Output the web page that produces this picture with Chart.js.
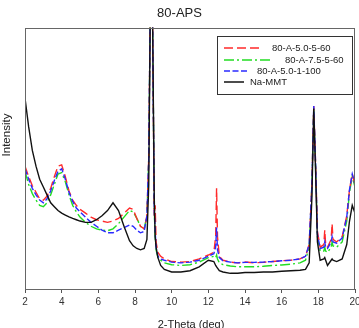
<!DOCTYPE html>
<html>
<head>
<meta charset="utf-8">
<script src="https://cdn.jsdelivr.net/npm/chart.js@4.4.1/dist/chart.umd.min.js"></script>
<style>
  html, body { margin: 0; padding: 0; background: #fff; }
  #wrap { width: 359px; height: 328px; }
</style>
</head>
<body>
<div id="wrap"><canvas id="xrd" width="359" height="328"></canvas></div>
<script>
// 2-theta positions (deg)
const twoTheta = [2.0, 2.2, 2.4, 2.6, 2.8, 3.0, 3.2, 3.4, 3.6, 3.8, 4.0, 4.2, 4.4, 4.6, 4.8, 5.0,
    5.3, 5.6, 5.9, 6.2, 6.5, 6.8, 7.1, 7.4, 7.7, 7.9, 8.1, 8.3, 8.5, 8.65, 8.75, 8.85, 8.9, 8.95,
    9.05, 9.1, 9.15, 9.25, 9.4, 9.6, 10.0, 10.5, 11.0, 11.5, 12.0, 12.3, 12.4, 12.45, 12.5, 12.6,
    12.8, 13.2, 13.6, 14.0, 14.5, 15.0, 15.5, 16.0, 16.5, 17.0, 17.3, 17.5, 17.65, 17.75, 17.85,
    17.95, 18.1, 18.3, 18.35, 18.4, 18.5, 18.7, 18.75, 18.8, 19.0, 19.3, 19.55, 19.7, 19.85, 20.0];

// intensity (arbitrary units)
const red5060 = [47, 43, 39.5, 37, 34.5, 34, 35.5, 38.5, 43, 47, 47.5, 43, 37.5, 34, 32, 30.5,
    29, 27.5, 26.5, 26, 25.5, 26, 27, 29, 31, 30.5, 27, 24, 23, 28, 50, 120, 150, 110,
    28, 32, 18, 14, 12.5, 11.5, 10.5, 10.3, 10.5, 11.5, 13, 14, 20, 38.5, 20, 12.5,
    11, 10.3, 10, 10.3, 10, 10.2, 10.5, 10.8, 11, 11.5, 12.5, 17, 40, 70, 48,
    22, 16, 17, 22.5, 17, 16, 19, 25, 19, 18, 20, 28, 38, 44, 40];

const green7560 = [45, 40, 36.5, 34, 32, 31.5, 33, 36, 40, 44, 44.5, 41, 36, 32, 29.5, 27.5,
    25.5, 24, 23, 22.5, 22.3, 23, 25, 27.5, 30, 29.5, 27, 24, 23, 28, 50, 120, 150, 110,
    30, 20, 15, 12, 11, 10, 9.3, 9, 9.3, 10.3, 12, 12.5, 12, 13, 11.5, 10,
    9.3, 8.8, 8.5, 8.5, 8.5, 8.7, 9, 9.2, 9.5, 10, 11, 16, 40, 69, 47,
    20, 14.5, 14.5, 16, 14.5, 14, 16, 18, 16.5, 16, 18, 26, 37, 43, 39];

const blue50100 = [46, 42, 38.5, 36, 34, 33, 34.5, 37.5, 41.5, 45, 46, 42, 37, 33.5, 31, 29.5,
    27.5, 25.5, 24, 22.5, 21.5, 21.5, 22.5, 23.5, 24.5, 24, 22.5, 21.5, 22, 28, 50, 120, 150, 110,
    30, 22, 16, 12.5, 11.5, 11, 10.3, 10, 10.3, 11, 12.5, 13.5, 16, 23.5, 15, 12,
    10.8, 10.3, 10, 10.2, 10.2, 10.3, 10.5, 10.8, 11, 11.5, 12.5, 17, 40, 70, 48,
    21, 15.5, 16, 18, 16, 15.5, 18, 20, 18, 17.5, 19.5, 27.5, 38, 44, 40];

const naMMT = [73, 62, 53, 47, 42, 39, 36, 33, 31.5, 30, 29, 28.3, 27.6, 27, 26.5, 26,
    25.5, 25.5, 26.5, 28, 30, 33, 30, 24, 18.5, 16.5, 15.5, 15, 15.5, 19, 40, 120, 150, 110,
    35, 20, 16, 12, 9, 7.5, 6.5, 6.5, 7, 8.5, 11, 10.5, 9, 8.5, 8, 7,
    6.5, 6, 6, 6.3, 6.3, 6.5, 6.5, 6.8, 7, 7.2, 7.5, 10, 35, 69, 45,
    18, 11, 11.5, 12, 11, 9, 11, 11.5, 11, 10.5, 11.5, 17, 26, 32, 29];

const seriesNames = ['80-A-5.0-5-60', '80-A-7.5-5-60', '80-A-5.0-1-100', 'Na-MMT'];
const xTicks = [2, 4, 6, 8, 10, 12, 14, 16, 18, 20];

function toPoints(values) {
    return values.map((v, i) => ({ x: twoTheta[i], y: v }));
}

const FONT = '"Liberation Sans", Arial, sans-serif';

// frame, axis titles and legend box
const decorPlugin = {
    id: 'decor',
    afterDraw(chart) {
        const ctx = chart.ctx;
        const a = chart.chartArea;
        ctx.save();

        // plot frame
        ctx.strokeStyle = '#666';
        ctx.lineWidth = 1;
        ctx.setLineDash([]);
        ctx.strokeRect(Math.round(a.left) + 0.5, Math.round(a.top) + 0.5,
            Math.round(a.right - a.left) - 1, Math.round(a.bottom - a.top));

        // y title
        ctx.fillStyle = '#222';
        ctx.font = '11.5px ' + FONT;
        ctx.textAlign = 'center';
        ctx.textBaseline = 'middle';
        ctx.translate(7, 135);
        ctx.rotate(-Math.PI / 2);
        ctx.fillText('Intensity', 0, 0);
        ctx.setTransform(1, 0, 0, 1, 0, 0);

        // x title (runs off the bottom like the original)
        ctx.font = '11px ' + FONT;
        ctx.textBaseline = 'alphabetic';
        ctx.fillText('2-Theta (deg)', 191, 328);

        // legend
        ctx.fillStyle = '#fff';
        ctx.fillRect(217.5, 36.5, 135, 58);
        ctx.strokeStyle = '#333';
        ctx.strokeRect(217.5, 36.5, 135, 58);

        const rows = [
            { y: 48, x2: 259, tx: 272 },
            { y: 60, x2: 270, tx: 285 },
            { y: 71, x2: 248, tx: 257 },
            { y: 82, x2: 244, tx: 250 }
        ];
        ctx.font = '9.5px ' + FONT;
        ctx.textAlign = 'left';
        ctx.textBaseline = 'middle';
        chart.data.datasets.forEach((ds, i) => {
            const r = rows[i];
            ctx.strokeStyle = ds.borderColor;
            ctx.lineWidth = 1.5;
            ctx.setLineDash(ds.borderDash || []);
            ctx.beginPath();
            ctx.moveTo(224, r.y);
            ctx.lineTo(r.x2, r.y);
            ctx.stroke();
            ctx.setLineDash([]);
            ctx.fillStyle = '#222';
            ctx.fillText(ds.label, r.tx, r.y);
        });
        ctx.restore();
    }
};

const ctx = document.getElementById('xrd').getContext('2d');
new Chart(ctx, {
    type: 'line',
    data: {
        datasets: [
            { label: seriesNames[0], data: toPoints(red5060), borderColor: '#ff2a2a', borderDash: [9, 4], order: 2 },
            { label: seriesNames[1], data: toPoints(green7560), borderColor: '#22dd22', borderDash: [10, 3, 2, 3], order: 3 },
            { label: seriesNames[2], data: toPoints(blue50100), borderColor: '#2a2aff', borderDash: [6, 2.5], order: 1 },
            { label: seriesNames[3], data: toPoints(naMMT), borderColor: '#111', order: 0 }
        ]
    },
    options: {
        responsive: false,
        animation: false,
        devicePixelRatio: 1,
        layout: { autoPadding: false, padding: { left: 0, right: 0, top: 0, bottom: 0 } },
        elements: {
            point: { radius: 0 },
            line: { borderWidth: 1.4, tension: 0, fill: false }
        },
        plugins: {
            legend: { display: false },
            tooltip: { enabled: false },
            title: {
                display: true,
                text: '80-APS',
                color: '#222',
                font: { family: FONT, size: 13, weight: 'normal' },
                padding: { top: 6, bottom: 6 }
            }
        },
        scales: {
            x: {
                type: 'linear',
                min: 2,
                max: 20,
                afterFit: (axis) => { axis.height = 39; axis.paddingRight = 4; },
                afterBuildTicks: (axis) => { axis.ticks = xTicks.map(v => ({ value: v })); },
                ticks: {
                    color: '#333',
                    font: { family: FONT, size: 10 },
                    padding: 3,
                    maxRotation: 0,
                    autoSkip: false
                },
                grid: { display: true, drawOnChartArea: false, drawTicks: true, tickLength: 4, color: '#555' },
                border: { display: true, color: '#555' }
            },
            y: {
                min: 0,
                max: 100,
                afterFit: (axis) => { axis.width = 25; },
                ticks: { display: false },
                grid: { display: false },
                border: { display: false }
            }
        }
    },
    plugins: [decorPlugin]
});
</script>
</body>
</html>
